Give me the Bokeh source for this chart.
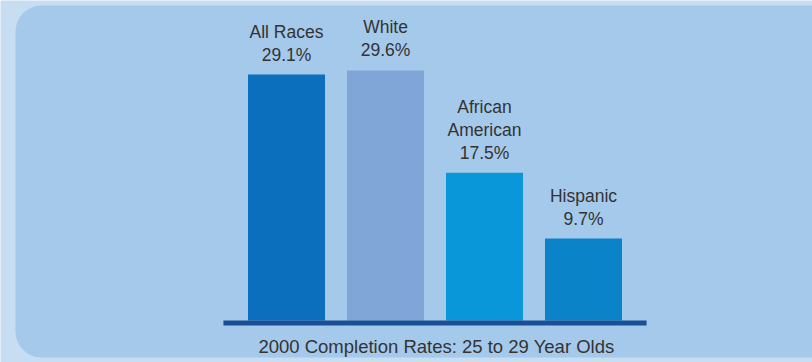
from bokeh.plotting import figure
from bokeh.models import Range1d, ColumnDataSource
from bokeh.core.properties import value
from bokeh.embed import file_html
from bokeh.resources import INLINE

# ---- data ----
categories = ["All Races", "White", "African\nAmerican", "Hispanic"]
rates = [29.1, 29.6, 17.5, 9.7]
bar_colors = ["#0b6fbe", "#80a6d8", "#0997da", "#0b83c9"]
caption = "2000 Completion Rates: 25 to 29 Year Olds"

W, H = 812, 362
# pixel geometry helpers (layout only)
X0_PX, STEP_PX = 286, 99.0      # centre of first bar, spacing between bars
Y0_PX, PX_PER_UNIT = 320, 8.45  # baseline pixel row, pixels per percentage point

def xd(px):
    return (px - X0_PX) / STEP_PX

def yd(py):
    return (Y0_PX - py) / PX_PER_UNIT

p = figure(width=W, height=H, output_backend="svg", toolbar_location=None,
           x_range=Range1d(xd(0), xd(W)), y_range=Range1d(yd(H), yd(0)),
           min_border=0, min_border_left=0, min_border_right=0,
           min_border_top=0, min_border_bottom=0)
p.axis.visible = False
p.grid.visible = False
p.outline_line_color = None
p.background_fill_color = "#c7ddf2"
p.border_fill_color = "#c7ddf2"

# rounded inner panel
p.quad(left=[xd(15)], right=[xd(W + 40)], top=[yd(5)], bottom=[yd(357)],
       fill_color="#a5c9ea", line_color=None, border_radius=26)

xs = list(range(len(categories)))
labels = [f"{c}\n{v}%" for c, v in zip(categories, rates)]
src = ColumnDataSource(dict(x=xs, top=rates, color=bar_colors, label=labels))

p.vbar(x="x", top="top", bottom=0, width=77 / STEP_PX, fill_color="color",
       line_color=None, source=src)

# baseline bar
p.quad(left=[-0.5 - 0.137], right=[len(categories) - 0.5 + 0.137],
       top=[yd(320)], bottom=[yd(325)], fill_color="#184f95", line_color=None)

p.text(x="x", y="top", text="label", source=src, text_align="center",
       text_baseline="bottom", y_offset=-10, text_color="#333333",
       text_font=value("Liberation Sans"), text_font_size="17.5px",
       text_line_height=1.15)

p.text(x=[(len(categories) - 1) / 2 + 0.015], y=[0], text=[caption],
       text_align="center", text_baseline="alphabetic", y_offset=26,
       text_color="#333333", text_font=value("Liberation Sans"),
       text_font_size="18.5px")

open("out.html", "w").write(file_html(p, INLINE))
